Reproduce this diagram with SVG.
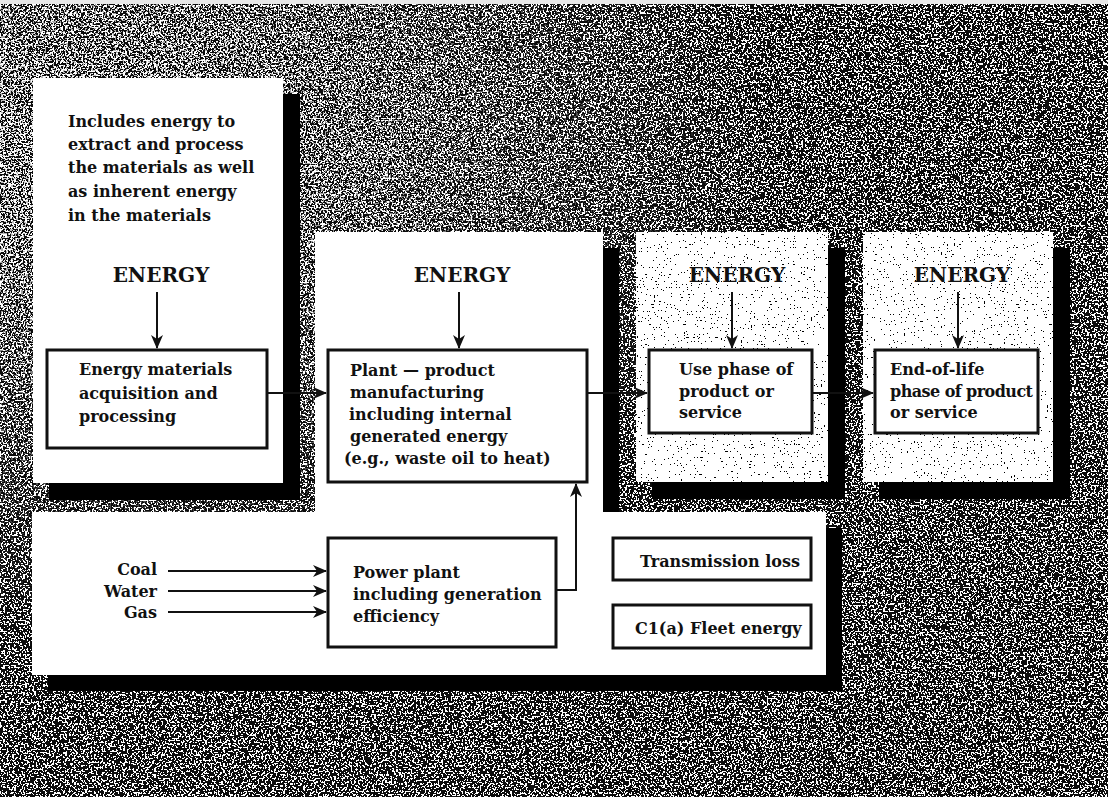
<svg xmlns="http://www.w3.org/2000/svg" width="1108" height="797" viewBox="0 0 1108 797">
<defs>
<style>
.panel{fill:#ffffff}
.shadow{fill:#000000}
.box{fill:#ffffff;stroke:#111111;stroke-width:3}
.t{font-family:"DejaVu Serif","Liberation Serif",serif;font-weight:bold;font-size:16px;fill:#111111}
.en{font-size:20px;text-anchor:middle}
.r{text-anchor:end}
.c{stroke:#111111;stroke-width:2;fill:none}
</style>
<marker id="ah" markerUnits="userSpaceOnUse" markerWidth="14" markerHeight="12" refX="13" refY="6" orient="auto">
<path d="M0,0 L14,6 L0,12 L4,6 Z" fill="#111111"/>
</marker>
<filter id="noise" x="0" y="0" width="1" height="1" filterUnits="objectBoundingBox">
<feTurbulence type="fractalNoise" baseFrequency="0.55" numOctaves="1" seed="7" result="t"/>
<feColorMatrix in="t" type="matrix" values="0 0 0 0 1  0 0 0 0 1  0 0 0 0 1  1 0 0 0 0"/>
<feComponentTransfer><feFuncA type="discrete" tableValues="0 0 0 0 0 0 0 0 0 0 0 1 1 1 1 1 1 1 1 1"/></feComponentTransfer>
</filter>
<filter id="noise2" x="0" y="0" width="1" height="1" filterUnits="objectBoundingBox">
<feTurbulence type="fractalNoise" baseFrequency="0.6" numOctaves="1" seed="23" result="t"/>
<feColorMatrix in="t" type="matrix" values="0 0 0 0 1  0 0 0 0 1  0 0 0 0 1  1 0 0 0 0"/>
<feComponentTransfer><feFuncA type="discrete" tableValues="0 0 0 0 0 0 0 0 0 0 0 1 1 1 1 1 1 1 1 1"/></feComponentTransfer>
</filter>
<filter id="speck" x="0" y="0" width="1" height="1" filterUnits="objectBoundingBox">
<feTurbulence type="fractalNoise" baseFrequency="0.7" numOctaves="1" seed="11" result="t"/>
<feColorMatrix in="t" type="matrix" values="0 0 0 0 0  0 0 0 0 0  0 0 0 0 0  1 0 0 0 0"/>
<feComponentTransfer><feFuncA type="discrete" tableValues="0 0 0 0 0 0 0 0 0 0 0 0 0 0 1 1 1 1 1 1"/></feComponentTransfer>
</filter>
<radialGradient id="lightfade" cx="0.1" cy="0.2" r="0.6">
<stop offset="0" stop-color="#fff" stop-opacity="0.9"/>
<stop offset="1" stop-color="#fff" stop-opacity="0"/>
</radialGradient>
<mask id="leftmask" maskUnits="userSpaceOnUse" x="0" y="0" width="1108" height="797">
<rect x="0" y="0" width="1108" height="797" fill="url(#lightfade)"/>
</mask>
</defs>

<g id="background">
<rect x="0" y="0" width="1108" height="797" fill="#0c0c0c"/>
<rect x="0" y="0" width="1108" height="797" filter="url(#noise)"/>
<g mask="url(#leftmask)"><rect x="0" y="0" width="1108" height="797" filter="url(#noise2)"/></g>
<rect x="0" y="0" width="1108" height="4" fill="#e8e8e8"/>
</g>

<g id="shadows">
<rect class="shadow" x="49" y="94" width="251" height="406"/>
<path class="shadow" d="M331,248 H619 V528 H842 V691 H48 V528 H331 Z"/>
<rect class="shadow" x="652" y="248" width="193" height="251"/>
<rect class="shadow" x="879" y="248" width="191" height="251"/>
</g>

<g id="panel-materials">
<rect class="panel" x="33" y="78" width="250" height="405"/>
<text class="t" x="68" y="127">Includes energy to</text>
<text class="t" x="68" y="150">extract and process</text>
<text class="t" x="68" y="173">the materials as well</text>
<text class="t" x="68" y="197">as inherent energy</text>
<text class="t" x="68" y="221">in the materials</text>
<text class="t en" x="161" y="282">ENERGY</text>
</g>

<g id="panel-manufacturing">
<path class="panel" d="M315,232 H603 V512 H826 V675 H32 V512 H315 Z"/>
<text class="t en" x="462" y="282">ENERGY</text>
</g>

<g id="panel-use">
<rect class="panel" x="636" y="232" width="192" height="250"/>
<rect x="636" y="232" width="192" height="250" filter="url(#speck)"/>
<text class="t en" x="737" y="282">ENERGY</text>
</g>

<g id="panel-eol">
<rect class="panel" x="863" y="232" width="190" height="250"/>
<rect x="863" y="232" width="190" height="250" filter="url(#speck)"/>
<text class="t en" x="962" y="282">ENERGY</text>
</g>

<g id="node-acquisition">
<rect class="box" x="47" y="350" width="220" height="98"/>
<text class="t" x="79" y="375">Energy materials</text>
<text class="t" x="79" y="399">acquisition and</text>
<text class="t" x="79" y="422">processing</text>
</g>

<g id="node-plant">
<rect class="box" x="328" y="350" width="259" height="132"/>
<text class="t" x="350" y="376">Plant — product</text>
<text class="t" x="350" y="398">manufacturing</text>
<text class="t" x="349" y="420">including internal</text>
<text class="t" x="350" y="442">generated energy</text>
<text class="t" x="344" y="464">(e.g., waste oil to heat)</text>
</g>

<g id="node-use">
<rect class="box" x="649" y="350" width="163" height="83"/>
<text class="t" x="679" y="375">Use phase of</text>
<text class="t" x="679" y="397">product or</text>
<text class="t" x="679" y="418">service</text>
</g>

<g id="node-eol">
<rect class="box" x="875" y="350" width="163" height="83"/>
<text class="t" x="890" y="375">End-of-life</text>
<text class="t" x="890" y="397" textLength="143">phase of product</text>
<text class="t" x="890" y="418">or service</text>
</g>

<g id="node-power">
<rect class="box" x="328" y="538" width="228" height="109"/>
<text class="t" x="353" y="578">Power plant</text>
<text class="t" x="353" y="600">including generation</text>
<text class="t" x="353" y="622">efficiency</text>
</g>

<g id="node-transmission">
<rect class="box" x="613" y="538" width="198" height="42"/>
<text class="t" x="640" y="567">Transmission loss</text>
</g>

<g id="node-fleet">
<rect class="box" x="613" y="605" width="198" height="43"/>
<text class="t" x="635" y="634">C1(a) Fleet energy</text>
</g>

<g id="inputs">
<text class="t r" x="157" y="575">Coal</text>
<text class="t r" x="157" y="597">Water</text>
<text class="t r" x="157" y="618">Gas</text>
</g>

<g id="connectors">
<line class="c" x1="157" y1="292" x2="157" y2="348" marker-end="url(#ah)"/>
<line class="c" x1="459" y1="292" x2="459" y2="348" marker-end="url(#ah)"/>
<line class="c" x1="732" y1="292" x2="732" y2="348" marker-end="url(#ah)"/>
<line class="c" x1="958" y1="292" x2="958" y2="348" marker-end="url(#ah)"/>
<line class="c" x1="268" y1="393" x2="326" y2="393" marker-end="url(#ah)"/>
<line class="c" x1="588" y1="393" x2="647" y2="393" marker-end="url(#ah)"/>
<line class="c" x1="813" y1="393" x2="873" y2="393" marker-end="url(#ah)"/>
<line class="c" x1="168" y1="571" x2="326" y2="571" marker-end="url(#ah)"/>
<line class="c" x1="168" y1="591" x2="326" y2="591" marker-end="url(#ah)"/>
<line class="c" x1="168" y1="612" x2="326" y2="612" marker-end="url(#ah)"/>
<path class="c" d="M557,590 H576 V484" marker-end="url(#ah)"/>
</g>
</svg>
